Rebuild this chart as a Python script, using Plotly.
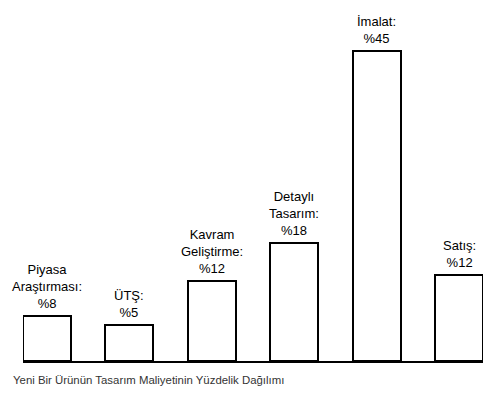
import plotly.graph_objects as go

categories = ["Piyasa Araştırması", "ÜTŞ", "Kavram Geliştirme", "Detaylı Tasarım", "İmalat", "Satış"]
label_lines = [
    ["Piyasa", "Araştırması:"],
    ["ÜTŞ:"],
    ["Kavram", "Geliştirme:"],
    ["Detaylı", "Tasarım:"],
    ["İmalat:"],
    ["Satış:"],
]
percents = [8, 5, 12, 18, 45, 12]
# bar heights as drawn in the picture (in % units)
bar_heights = [6.6, 5.2, 11.7, 17.2, 45, 12.5]
caption = "Yeni Bir Ürünün Tasarım Maliyetinin Yüzdelik Dağılımı"

FONT = "Liberation Sans, Arial, sans-serif"

fig = go.Figure()
fig.add_trace(go.Bar(
    x=categories,
    y=bar_heights,
    width=0.58,
    marker=dict(color="white", line=dict(color="black", width=2)),
    hoverinfo="skip",
))

for cat, h, lines, p in zip(categories, bar_heights, label_lines, percents):
    fig.add_annotation(
        x=cat, y=h, xref="x", yref="y",
        text="<br>".join(lines + [f"%{p}"]),
        showarrow=False, yanchor="bottom", xanchor="center",
        yshift=3,
        font=dict(family=FONT, size=13, color="black"),
    )

fig.add_annotation(
    x=0, y=0, xref="paper", yref="paper",
    text=caption, showarrow=False, xanchor="left", yanchor="top",
    xshift=-12, yshift=-11,
    font=dict(family=FONT, size=11.4, color="#333333"),
)

fig.update_layout(
    width=492, height=389,
    margin=dict(l=15, r=17, t=9, b=36),
    paper_bgcolor="white", plot_bgcolor="white",
    showlegend=False,
    bargap=0,
    xaxis=dict(range=[-0.29, 5.29], showline=True, linecolor="black", linewidth=2,
               showticklabels=False, ticks="", showgrid=False, zeroline=False, fixedrange=True),
    yaxis=dict(range=[0, 50], visible=False, showgrid=False, zeroline=False, fixedrange=True),
)

fig.write_html("out.html")
